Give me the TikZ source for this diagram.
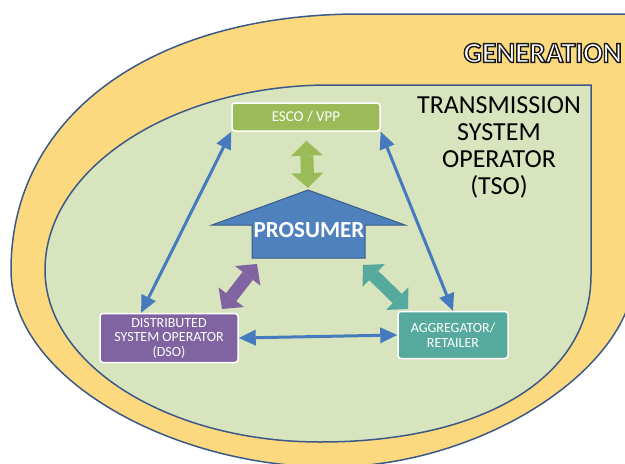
\documentclass[tikz,border=0pt]{standalone}
\usepackage{fontspec}
\setmainfont{Carlito}
\usetikzlibrary{calc,arrows.meta}

\definecolor{genyellow}{RGB}{252,217,127}
\definecolor{tsogreen}{RGB}{215,228,189}
\definecolor{rimblue}{RGB}{59,89,135}
\definecolor{escogreen}{RGB}{155,187,89}
\definecolor{prosblue}{RGB}{79,129,189}
\definecolor{prosedge}{RGB}{56,93,138}
\definecolor{dsopurple}{RGB}{128,100,162}
\definecolor{aggteal}{RGB}{86,170,157}
\definecolor{linkblue}{RGB}{70,122,190}
% white letters with a dark rim
\newcommand{\rimtext}[1]{\textcolor{white}{\special{pdf:literal direct 2 Tr 1.4 w 0.1 0.1 0.1 RG}#1\special{pdf:literal direct 0 Tr}}}

\begin{document}
\begin{tikzpicture}[x=1pt,y=-1pt,
  actor/.style={draw=white,line width=1.5pt,rounded corners=3pt,text=white,align=center,inner sep=0pt,font=\fontsize{14}{14.5}\selectfont},
  link/.style={linkblue,line width=3pt,{Triangle[length=17pt,width=16pt,line width=0pt]}-{Triangle[length=17pt,width=16pt,line width=0pt]}},
  fat/.style={line width=13pt,{Triangle[length=15pt,width=32pt,line width=0pt]}-{Triangle[length=15pt,width=32pt,line width=0pt]}}]

\useasboundingbox (0,0) rectangle (625,464);
\clip (0,0) rectangle (625,464);
\fill[white] (0,0) rectangle (625,464);

% generation and tso areas
\draw [rimblue,line width=1.5pt,fill=genyellow] (11,270) .. controls (11,116) and (151,14) .. (360,14) -- (635,14) -- (635,270) .. controls (635,368) and (482,467) .. (330,467) .. controls (175,467) and (11,380) .. (11,270) -- cycle;
\draw [rimblue,line width=1.5pt,fill=tsogreen] (45,270) .. controls (45,168) and (173,85) .. (330,85) -- (591,85) -- (591,275) .. controls (591,378) and (483,442) .. (320,442) .. controls (169,442) and (45,365) .. (45,270) -- cycle;

\node [anchor=east,inner sep=0pt,font=\bfseries\fontsize{29}{29}\selectfont] (gen) at (622,53) {\rimtext{GENERATION}};
\node [align=center,font=\fontsize{26}{27}\selectfont] (tso) at (499,147) {TRANSMISSION\\SYSTEM\\OPERATOR\\(TSO)};

% prosumer
\draw [prosedge,line width=1pt,fill=prosblue] (308,190) -- (405,225) -- (365,225) -- (365,258) -- (252,258) -- (252,225) -- (212,225) -- cycle;
\node [text=white,inner sep=0pt,font=\bfseries\fontsize{23}{23}\selectfont] (prosumer) at (309,230) {PROSUMER};
\coordinate (roof) at (308,190);
\coordinate (prosw) at (257,264);
\coordinate (prose) at (363,265);

% actors
\node [actor,fill=escogreen,minimum width=148pt,minimum height=28pt,font=\fontsize{15}{15}\selectfont] (esco) at (306,117) {ESCO / VPP};
\node [actor,fill=dsopurple,minimum width=138pt,minimum height=49pt] (dso) at (169,338) {DISTRIBUTED\\SYSTEM OPERATOR\\(DSO)};
\node [actor,fill=aggteal,minimum width=110pt,minimum height=47pt] (agg) at (453,335) {AGGREGATOR/\\RETAILER};
\coordinate (dsolink) at (222,309);
\coordinate (agglink) at (408,309);

% links
\draw [link] (esco.south west) -- ($(dso.north west)!.3!(dso.north east)$);
\draw [link] (esco.south east) -- (agg.north);
\draw [link] (dso.east) -- (agg.west);

\draw [fat,escogreen,shorten <=9pt,shorten >=2pt] (esco.south) -- (roof);
\draw [fat,dsopurple] (dsolink) -- (prosw);
\draw [fat,aggteal] (agglink) -- (prose);

\end{tikzpicture}
\end{document}
